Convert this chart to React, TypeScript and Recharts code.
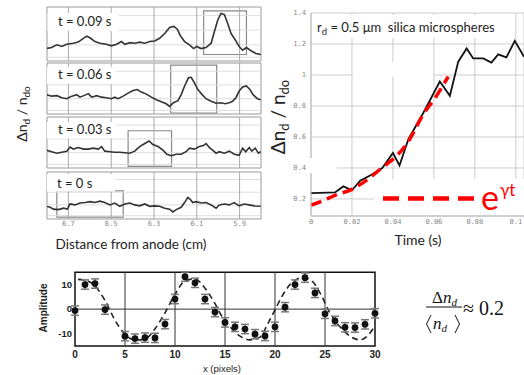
import React from 'react';
import {
  LineChart, Line, XAxis, YAxis, CartesianGrid, ReferenceArea, ReferenceLine,
  ComposedChart, Scatter, ErrorBar,
} from 'recharts';

// ---- left: density profiles at four times ----
const distTicks = [6.7, 6.5, 6.3, 6.1, 5.9];
const panelGridY = [0.07, 0.3, 0.57, 0.84];
const panelLabels = ['t = 0.09 s', 't = 0.06 s', 't = 0.03 s', 't = 0 s'];

// [distance from anode (cm), Δn/n (a.u.)]
const trace009 = [
  [6.804, 0.23], [6.778, 0.25], [6.754, 0.3], [6.731, 0.27], [6.708, 0.31], [6.677, 0.33], [6.654, 0.35],
  [6.63, 0.42], [6.615, 0.46], [6.599, 0.43], [6.576, 0.36], [6.553, 0.33], [6.522, 0.31], [6.499, 0.28],
  [6.475, 0.31], [6.452, 0.36], [6.436, 0.31], [6.413, 0.34], [6.39, 0.33], [6.367, 0.35], [6.343, 0.33],
  [6.32, 0.36], [6.297, 0.37], [6.274, 0.42], [6.25, 0.51], [6.227, 0.62], [6.207, 0.64], [6.191, 0.59],
  [6.177, 0.47], [6.157, 0.36], [6.134, 0.3], [6.115, 0.23], [6.1, 0.27], [6.08, 0.23], [6.057, 0.25],
  [6.033, 0.33], [6.018, 0.54], [6.002, 0.76], [5.987, 0.88], [5.971, 0.86], [5.956, 0.7], [5.94, 0.51],
  [5.92, 0.39], [5.902, 0.27], [5.886, 0.2], [5.868, 0.25], [5.847, 0.19], [5.824, 0.14], [5.801, 0.12],
];
const trace006 = [
  [6.804, 0.38], [6.778, 0.35], [6.754, 0.36], [6.731, 0.32], [6.708, 0.3], [6.684, 0.35], [6.661, 0.38],
  [6.646, 0.33], [6.622, 0.37], [6.607, 0.4], [6.591, 0.33], [6.568, 0.36], [6.545, 0.33], [6.522, 0.32],
  [6.499, 0.3], [6.483, 0.33], [6.468, 0.3], [6.444, 0.35], [6.421, 0.41], [6.398, 0.46], [6.378, 0.48],
  [6.359, 0.43], [6.336, 0.39], [6.312, 0.33], [6.289, 0.28], [6.266, 0.24], [6.243, 0.2], [6.227, 0.15],
  [6.209, 0.22], [6.188, 0.26], [6.173, 0.38], [6.157, 0.55], [6.139, 0.71], [6.126, 0.72], [6.111, 0.61],
  [6.095, 0.48], [6.075, 0.38], [6.057, 0.3], [6.033, 0.25], [6.01, 0.21], [5.987, 0.22], [5.967, 0.2],
  [5.948, 0.22], [5.933, 0.25], [5.917, 0.32], [5.902, 0.45], [5.886, 0.53], [5.868, 0.55], [5.852, 0.48],
  [5.837, 0.38], [5.817, 0.3], [5.801, 0.28],
];
const trace003 = [
  [6.804, 0.35], [6.778, 0.32], [6.754, 0.29], [6.731, 0.31], [6.708, 0.33], [6.692, 0.41], [6.677, 0.37],
  [6.654, 0.4], [6.63, 0.37], [6.607, 0.37], [6.584, 0.39], [6.56, 0.37], [6.545, 0.42], [6.53, 0.33],
  [6.506, 0.32], [6.483, 0.31], [6.46, 0.31], [6.436, 0.3], [6.413, 0.29], [6.39, 0.33], [6.367, 0.42],
  [6.343, 0.48], [6.323, 0.53], [6.305, 0.46], [6.281, 0.42], [6.258, 0.35], [6.24, 0.27], [6.219, 0.24],
  [6.196, 0.27], [6.173, 0.27], [6.15, 0.32], [6.134, 0.39], [6.111, 0.37], [6.088, 0.42], [6.069, 0.44],
  [6.057, 0.48], [6.041, 0.4], [6.026, 0.35], [6.01, 0.29], [5.995, 0.32], [5.971, 0.29], [5.948, 0.33],
  [5.925, 0.27], [5.902, 0.25], [5.886, 0.39], [5.871, 0.32], [5.855, 0.4], [5.843, 0.33], [5.827, 0.39],
  [5.812, 0.29], [5.801, 0.32],
];
const trace000 = [
  [6.804, 0.27], [6.785, 0.25], [6.77, 0.21], [6.747, 0.2], [6.723, 0.23], [6.705, 0.21], [6.692, 0.32],
  [6.669, 0.3], [6.646, 0.34], [6.622, 0.35], [6.599, 0.37], [6.576, 0.35], [6.553, 0.38], [6.53, 0.35],
  [6.506, 0.3], [6.483, 0.34], [6.46, 0.27], [6.436, 0.32], [6.413, 0.34], [6.39, 0.3], [6.367, 0.28],
  [6.343, 0.32], [6.32, 0.27], [6.297, 0.28], [6.274, 0.27], [6.25, 0.23], [6.227, 0.21], [6.212, 0.15],
  [6.196, 0.2], [6.173, 0.25], [6.157, 0.35], [6.142, 0.46], [6.131, 0.42], [6.119, 0.35], [6.103, 0.37],
  [6.08, 0.34], [6.057, 0.35], [6.033, 0.3], [6.01, 0.23], [5.995, 0.3], [5.971, 0.32], [5.948, 0.3],
  [5.925, 0.35], [5.902, 0.28], [5.879, 0.32], [5.855, 0.3], [5.832, 0.28], [5.801, 0.27],
];
// highlight boxes: [d1, d2, v1, v2]
const box009 = [6.068, 5.868, 0.12, 0.93];
const box006 = [6.222, 6.007, 0.02, 0.96];
const box003 = [6.421, 6.218, 0.03, 0.73];
const box000 = [6.754, 6.444, 0.04, 0.6];

// ---- right: growth of the perturbation ----
const timeTicks = [0, 0.02, 0.04, 0.06, 0.08, 0.1];
const growthTicks = [0.2, 0.4, 0.6, 0.8, 1, 1.2, 1.4];
const measT = [0, 0.0117, 0.0158, 0.02, 0.024, 0.0295, 0.0348, 0.04, 0.0432, 0.0475, 0.0548, 0.0629, 0.0678,
  0.0719, 0.076, 0.0792, 0.0841, 0.0881, 0.0914, 0.0954, 0.0995, 0.104];
const measV = [0.238, 0.242, 0.281, 0.256, 0.318, 0.356, 0.399, 0.496, 0.416, 0.584, 0.755, 0.958, 0.866,
  1.086, 1.171, 1.107, 1.107, 1.08, 1.133, 1.114, 1.22, 1.118];
const fitT = [0, 0.006, 0.012, 0.02, 0.027, 0.035, 0.042, 0.047, 0.055, 0.061, 0.067];
const fitV = [0.16, 0.19, 0.225, 0.262, 0.32, 0.405, 0.48, 0.56, 0.75, 0.86, 0.99];

// ---- bottom: amplitude vs pixel ----
const pixTicks = [0, 5, 10, 15, 20, 25, 30];
const pixGrid = [5, 10, 15, 20, 25];
const ampTicks = [-10, 0, 10];
const pixX = [0, 1, 2, 3, 5, 6, 7, 8, 9, 10, 11, 12, 13, 14, 15, 16, 17, 18, 19, 20, 21, 22, 23, 24, 25, 26, 27, 28, 29, 30];
const ampY = [-0.6, 10, 10.4, -0.2, -11, -12, -11.6, -11.7, -6.1, 4.1, 13.2, 10.7, 4.1, -1.2, -5.4, -7.2, -8.1,
  -10.2, -10.9, -7.2, 0.8, 10, 12.8, 6.6, -1.9, -4.8, -7.4, -7.5, -6.2, -1.7];
const ampErr = [1.9, 1.9, 1.9, 1.9, 1.9, 1.9, 1.9, 1.9, 1.9, 1.9, 1.9, 1.9, 1.9, 1.9, 1.9, 1.9, 1.9, 1.9, 1.9,
  1.9, 1.9, 1.9, 1.9, 1.9, 1.9, 1.9, 1.9, 1.9, 1.9, 1.9];
const sineX = [0.3, 1, 2, 3, 4, 5, 6, 7, 8, 9, 10, 11, 12, 13, 14, 14.5, 15.5, 16.5, 17.5, 18.5, 19.3, 20, 20.7,
  21.5, 22.7, 23.7, 24.5, 25.5, 26.5, 27.5, 28.5, 29.3, 29.8];
const sineY = [12.1, 11.8, 9.4, 3.5, -4.5, -10.2, -12.6, -12.2, -8, -1.5, 6, 11.5, 12.3, 8.5, 2.2, -1.6, -7.2, -11,
  -12.5, -11.4, -5.8, -0.3, 5.2, 10, 12.8, 11.4, 6.6, -1.6, -7.2, -11, -12.5, -10.7, -8];

const sans = 'Lato, "Open Sans", sans-serif';

function Panel({ top, height, trace, box, axis }: any) {
  const data = trace.map(([d, v]: number[]) => ({ d, v }));
  const axisH = axis ? 15 : 0;
  const h = height + 2 + axisH;
  return (
    <div style={{ position: 'absolute', left: 46, top: top - 1, width: 216, height: h }}>
      <LineChart width={216} height={h} data={data} margin={{ top: 1, right: 1, bottom: 1, left: 1 }}>
        <XAxis type="number" dataKey="d" domain={[5.8, 6.8]} reversed allowDataOverflow ticks={distTicks}
          hide={!axis} height={axisH} tickLine={false} tickSize={0} axisLine={false} tickMargin={2}
          tick={{ fontSize: 7, fill: '#888', fontFamily: 'DejaVu Sans Mono' }}
          tickFormatter={(x: number) => x.toFixed(1)} />
        <YAxis hide type="number" domain={[0, 1]} />
        {panelGridY.map((y) => <ReferenceLine key={'h' + y} y={y} stroke="#ddd" />)}
        {distTicks.map((x) => <ReferenceLine key={'v' + x} x={x} stroke="#aaa" />)}
        <ReferenceArea x1={6.8} x2={5.8} y1={0} y2={1} fill="none" stroke="#999" />
        <ReferenceArea x1={box[0]} x2={box[1]} y1={box[2]} y2={box[3]} fill="none" fillOpacity={0} stroke="#888" strokeWidth={1.2} />
        <Line dataKey="v" type="linear" stroke="#333" strokeWidth={1.6} dot={false} isAnimationActive={false} />
      </LineChart>
    </div>
  );
}

export default function App() {
  const measData = measT.map((t, i) => ({ t, v: measV[i] }));
  const fitData = fitT.map((t, i) => ({ t, v: fitV[i] }));
  const ampData = pixX.map((x, i) => ({ x, y: ampY[i], err: ampErr[i] }));
  const sineData = sineX.map((x, i) => ({ x, y: sineY[i] }));
  const panelTops = [7, 63, 117, 172];
  const panelHeights = [54, 51, 51, 47];
  const traces = [trace009, trace006, trace003, trace000];
  const boxes = [box009, box006, box003, box000];
  const labelBoxes = [[47.5, 13, 71, 18, 26], [47, 67, 69, 17, 78.5], [47, 122, 69, 16.5, 133.5], [47, 174, 68, 17.5, 187.5]];

  return (
    <div style={{ position: 'absolute', left: 0, top: 0, width: 524, height: 375, overflow: 'hidden', background: '#fff' }}>
      {traces.map((tr, i) => (
        <Panel key={i} top={panelTops[i]} height={panelHeights[i]} trace={tr} box={boxes[i]} axis={i === 3} />
      ))}

      <div style={{ position: 'absolute', left: 270, top: 0 }}>
        <LineChart width={254} height={250} margin={{ top: 13, right: 0, bottom: 20, left: 11 }}>
          <CartesianGrid stroke="#ccc" />
          <XAxis type="number" dataKey="t" domain={[0, 0.104]} allowDataOverflow ticks={timeTicks} height={14}
            tickLine={false} tickSize={0} axisLine={{ stroke: '#bbb' }} tickMargin={3}
            tick={{ fontSize: 7, fill: '#888', fontFamily: 'DejaVu Sans Mono' }}
            tickFormatter={(v: number) => String(v)} />
          <YAxis type="number" domain={[0.09, 1.4]} allowDataOverflow ticks={growthTicks} width={30}
            tickLine={false} tickSize={0} axisLine={{ stroke: '#bbb' }} tickMargin={5}
            tick={{ fontSize: 7, fill: '#888', fontFamily: 'DejaVu Sans Mono' }}
            tickFormatter={(v: number) => String(v)} />
          <Line data={measData} dataKey="v" type="linear" stroke="#111" strokeWidth={1.8} dot={false} isAnimationActive={false} />
          <Line data={fitData} dataKey="v" type="monotone" stroke="#ff0000" strokeWidth={3.5} strokeDasharray="11 6" dot={false} isAnimationActive={false} />
        </LineChart>
      </div>

      <div style={{ position: 'absolute', left: 0, top: 250 }}>
        <ComposedChart width={400} height={125} margin={{ top: 22, right: 25, bottom: 14, left: 55 }}>
          <XAxis type="number" dataKey="x" domain={[0, 30]} ticks={pixTicks} height={15} tickLine={false} tickSize={0} axisLine={false}
            tickMargin={5} tick={{ fontSize: 10, fontWeight: 'bold', fill: '#222', fontFamily: 'Liberation Sans' }} />
          <YAxis type="number" dataKey="y" domain={[-15, 15]} ticks={ampTicks} width={20} tickLine={false} tickSize={0} axisLine={false}
            tickMargin={3} tick={{ fontSize: 9.5, fontWeight: 'bold', fill: '#222', fontFamily: 'Liberation Sans' }} />
          {pixGrid.map((x) => <ReferenceLine key={x} x={x} stroke="#333" />)}
          <ReferenceLine y={0} stroke="#333" />
          <ReferenceArea x1={0} x2={30} y1={-15} y2={15} fill="none" fillOpacity={0} stroke="#111" strokeWidth={1.5} />
          <Line data={sineData} dataKey="y" type="monotone" stroke="#222" strokeWidth={1.6} strokeDasharray="6 4" dot={false} isAnimationActive={false} />
          <Scatter data={ampData} dataKey="y" isAnimationActive={false}
            shape={(p: any) => <circle cx={p.cx} cy={p.cy} r={3.4} fill="#111" />}>
            <ErrorBar dataKey="err" direction="y" width={4} stroke="#777" />
          </Scatter>
        </ComposedChart>
      </div>

      <svg width={524} height={375} style={{ position: 'absolute', left: 0, top: 0 }}>
        {labelBoxes.map(([x, y, w, h, by], i) => (
          <g key={i}>
            <rect x={x} y={y} width={w} height={h} fill="#fff" />
            <text x={i === 3 ? 57 : 58} y={by} fontSize={13} fontFamily={sans} fill="#222">{panelLabels[i]}</text>
          </g>
        ))}
        <text transform="translate(27,114) rotate(-90)" textAnchor="middle" fontSize={14} fontFamily={sans} fill="#222">
          Δn<tspan fontSize={10} dy={3}>d</tspan><tspan dy={-3}> / n</tspan><tspan fontSize={10} dy={3}>do</tspan>
        </text>
        <text x={131} y={249} textAnchor="middle" fontSize={13.5} fontFamily={sans} fill="#222">Distance from anode (cm)</text>

        <rect x={313} y={15} width={192} height={23} fill="#fff" />
        <text x={317} y={32} fontSize={13} fontFamily={sans} fill="#222" style={{ whiteSpace: 'pre' }}>
          r<tspan fontSize={9.5} dy={3}>d</tspan><tspan dy={-3}>{' = 0.5 μm  silica microspheres'}</tspan>
        </text>
        <rect x={353} y={62} width={80} height={15} fill="#fff" />
        <rect x={310} y={158} width={27} height={15} fill="#fff" />
        <text transform="translate(285,117) rotate(-90)" textAnchor="middle" fontSize={19} fontFamily={sans} fill="#222">
          Δn<tspan fontSize={13} dy={4}>d</tspan><tspan dy={-4}> / n</tspan><tspan fontSize={13} dy={4}>do</tspan>
        </text>
        <text x={418} y={245} textAnchor="middle" fontSize={14} fontFamily={sans} fill="#222">Time (s)</text>
        <rect x={374} y={179} width={150} height={36} fill="#fff" />
        <line x1={383} x2={474} y1={198.5} y2={198.5} stroke="#ff0000" strokeWidth={4.5} strokeDasharray="16 9" />
        <text x={481} y={210} fontSize={34} fontFamily={sans} fill="#ff0000">e</text>
        <text x={500} y={196} fontSize={17} fontFamily={sans} fill="#ff0000">γt</text>

        <text transform="translate(47,308) rotate(-90)" textAnchor="middle" fontSize={10} fontWeight="bold" fontFamily="Liberation Sans" fill="#222">Amplitude</text>
        <text x={222} y={371.5} textAnchor="middle" fontSize={9.5} fontFamily="Liberation Sans" fill="#222">x (pixels)</text>

        <g fontFamily="Liberation Serif" fill="#111">
          <text x={432} y={303} fontSize={17}>Δ<tspan fontStyle="italic">n</tspan><tspan fontSize={11} fontStyle="italic" dy={3}>d</tspan></text>
          <line x1={426} x2={462} y1={307} y2={307} stroke="#111" strokeWidth={1} />
          <polyline points="431,315 426.5,324 431,333" fill="none" stroke="#111" strokeWidth={1} />
          <text x={433} y={329} fontSize={17} fontStyle="italic">n<tspan fontSize={11} dy={3}>d</tspan></text>
          <polyline points="455,315 459.5,324 455,333" fill="none" stroke="#111" strokeWidth={1} />
          <text x={463} y={315} fontSize={20}>≈ 0.2</text>
        </g>
      </svg>
    </div>
  );
}
